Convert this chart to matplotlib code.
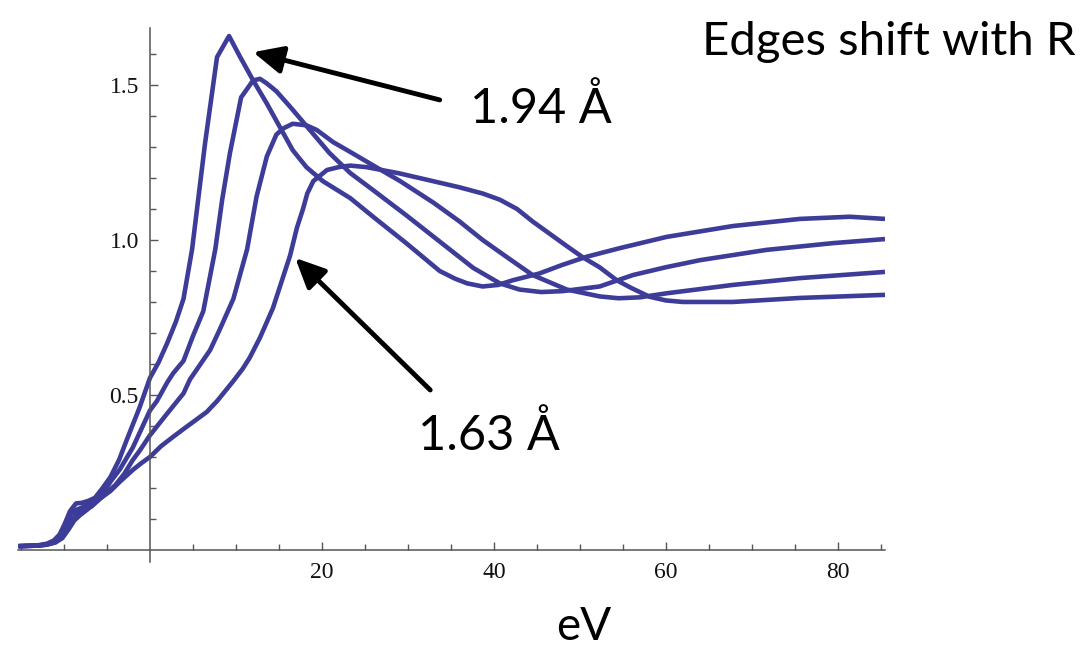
import matplotlib
matplotlib.use("Agg")
import matplotlib.pyplot as plt

# curves, from the 1.94 A curve (edge furthest left) to the 1.63 A curve
a_x = [-15.3, -13, -12, -11.2, -10.5, -9.9, -9.3, -8.6, -7.9, -7.2, -6.4, -5.5, -4.6, -3.6, -2.7, -1.2, 0,
       1, 2, 3, 3.9, 4.9, 6.4, 7.8, 9.2, 10.5, 12.0, 13.6, 15.1, 16.6, 18.2, 20.1, 23.3, 26, 29.8, 33.7,
       35.5, 36.9, 38.7, 40.5, 42.2, 45.3, 48, 50.8, 54.7, 60.1, 67.8, 75.6, 81.4, 85.5]
a_y = [0.012, 0.015, 0.02, 0.03, 0.05, 0.085, 0.125, 0.15, 0.152, 0.158, 0.168, 0.2, 0.235, 0.29, 0.355, 0.46, 0.555,
       0.605, 0.667, 0.735, 0.81, 0.97, 1.31, 1.59, 1.658, 1.59, 1.515, 1.44, 1.365, 1.29, 1.235, 1.19, 1.135, 1.074, 0.99, 0.90,
       0.875, 0.86, 0.85, 0.855, 0.87, 0.892, 0.92, 0.946, 0.974, 1.01, 1.045, 1.068, 1.075, 1.068]

b_x = [-15.3, -13, -12, -11.2, -10.5, -9.9, -9.2, -8.5, -7.8, -7.0, -6.2, -5.5, -4.6, -3.5, -2, -1, 0,
       0.8, 2, 2.7, 3.9, 5, 6.2, 7.6, 8.4, 9.3, 10.6, 12.0, 12.8, 13.6, 14.7, 16.3, 18.6, 20.9, 23.3, 26,
       29.8, 33.7, 37.6, 40.7, 43, 45.5, 48, 52.3, 56.2, 60, 64, 71.7, 79.5, 85.5]
b_y = [0.012, 0.014, 0.018, 0.027, 0.045, 0.08, 0.115, 0.13, 0.138, 0.15, 0.165, 0.18, 0.22, 0.26, 0.33, 0.39, 0.45,
       0.48, 0.54, 0.57, 0.61, 0.69, 0.77, 0.97, 1.13, 1.28, 1.46, 1.515, 1.52, 1.505, 1.48, 1.43, 1.355, 1.28, 1.216, 1.16,
       1.08, 0.995, 0.91, 0.86, 0.84, 0.832, 0.835, 0.85, 0.887, 0.912, 0.935, 0.968, 0.99, 1.003]

c_x = [-15.3, -13, -12, -11, -10.3, -9.6, -9.0, -8.3, -7.6, -6.8, -6, -5, -4, -3, -2, -1.2, 0,
       2, 3.9, 4.65, 7.0, 8.1, 9.7, 11.3, 12.4, 13.6, 14.7, 15.5, 16.6, 18.2, 19.4, 21.3, 23.3, 26,
       29.1, 33, 36, 38.7, 41.5, 44.5, 48.5, 52.3, 54.5, 57, 60.1, 67.8, 75.6, 85.5]
c_y = [0.012, 0.014, 0.017, 0.025, 0.04, 0.07, 0.1, 0.12, 0.127, 0.14, 0.16, 0.185, 0.21, 0.245, 0.29, 0.32, 0.37,
       0.44, 0.505, 0.55, 0.645, 0.71, 0.81, 0.97, 1.14, 1.27, 1.34, 1.36, 1.375, 1.37, 1.355, 1.316, 1.284, 1.24,
       1.19, 1.12, 1.06, 1.0, 0.945, 0.887, 0.84, 0.818, 0.812, 0.815, 0.828, 0.855, 0.877, 0.897]

d_x = [-15.3, -13, -12, -11, -10.2, -9.5, -8.8, -8.1, -7.3, -6.5, -5.6, -4.6, -3.5, -2, -1, 0,
       1.3, 2.7, 3.9, 6.6, 7.8, 9.7, 10.8, 11.6, 12.8, 14.3, 16.3, 17.1, 17.8, 18.3, 19, 20.6, 22.1, 23.3,
       25.2, 29, 32.9, 36, 38.7, 40.7, 42.7, 44.5, 46.5, 48.5, 50.3, 52.3, 54.3, 56, 58.1, 60, 62, 67.8, 75.6, 85.5]
d_y = [0.012, 0.014, 0.017, 0.024, 0.038, 0.065, 0.095, 0.113, 0.13, 0.155, 0.17, 0.19, 0.22, 0.258, 0.28, 0.30,
       0.335, 0.365, 0.39, 0.445, 0.48, 0.545, 0.585, 0.62, 0.685, 0.78, 0.95, 1.04, 1.10, 1.15, 1.19, 1.226, 1.236, 1.24,
       1.235, 1.215, 1.19, 1.17, 1.15, 1.13, 1.10, 1.06, 1.02, 0.98, 0.945, 0.912, 0.87, 0.845, 0.817, 0.805, 0.80, 0.80, 0.813, 0.823]

x_major = [20, 40, 60, 80]
x_minor = [-15, -10, -5, 5, 10, 15, 25, 30, 35, 45, 50, 55, 65, 70, 75, 85]
y_major = [0.5, 1.0, 1.5]
y_minor = [0.1, 0.2, 0.3, 0.4, 0.6, 0.7, 0.8, 0.9, 1.1, 1.2, 1.3, 1.4, 1.6]

line_col = "#3d3d99"
axis_col = "#555555"

fig = plt.figure(figsize=(10.84, 6.5), dpi=100)
ax = fig.add_axes([18 / 1084, 88 / 650, 867 / 1084, 534 / 650])

for xs, ys in [(d_x, d_y), (c_x, c_y), (b_x, b_y), (a_x, a_y)]:
    ax.plot(xs, ys, color=line_col, lw=3.3, solid_joinstyle="round", solid_capstyle="butt")

ax.set_xlim(-15.35, 85.5)
ax.set_ylim(-0.039, 1.684)

for s in ["top", "right"]:
    ax.spines[s].set_visible(False)
ax.spines["left"].set_position(("data", 0))
ax.spines["bottom"].set_position(("data", 0))
for s in ["left", "bottom"]:
    ax.spines[s].set_color(axis_col)
    ax.spines[s].set_linewidth(1.1)

ax.set_xticks(x_major)
ax.set_xticks(x_minor, minor=True)
ax.set_yticks(y_major)
ax.set_yticks(y_minor, minor=True)
ax.set_yticklabels(["%.1f" % v for v in y_major])
ax.tick_params(which="both", direction="in", color=axis_col, width=1.0)
ax.tick_params(which="major", length=6)
ax.tick_params(which="minor", length=4)
ax.tick_params(axis="x", pad=9)
ax.tick_params(axis="y", pad=8)
for lab in ax.get_xticklabels() + ax.get_yticklabels():
    lab.set_fontfamily("Liberation Serif")
    lab.set_fontsize(17)
    lab.set_color("#111111")

# arrows pointing at the two outer curves
arrow_kw = dict(arrowstyle="-|>,head_length=0.9,head_width=0.42", lw=3.5, color="black",
                mutation_scale=20, shrinkA=0, shrinkB=0)
ax.annotate("", xy=(12.0, 1.606), xytext=(33.7, 1.452), arrowprops=arrow_kw)
ax.annotate("", xy=(16.9, 0.942), xytext=(32.6, 0.516), arrowprops=arrow_kw)

sans = ["Lato", "DejaVu Sans"]
fig.text(470 / 1084, 1 - 123 / 650, "1.94 Å", fontsize=35, family=sans, va="baseline")
fig.text(418 / 1084, 1 - 450 / 650, "1.63 Å", fontsize=35, family=sans, va="baseline")
fig.text(1075 / 1084, 1 - 55 / 650, "Edges shift with R", fontsize=34, family=sans, va="baseline", ha="right")
fig.text(584 / 1084, 1 - 640 / 650, "eV", fontsize=33, family=sans, va="baseline", ha="center")

fig.savefig("out.png", dpi=100)
